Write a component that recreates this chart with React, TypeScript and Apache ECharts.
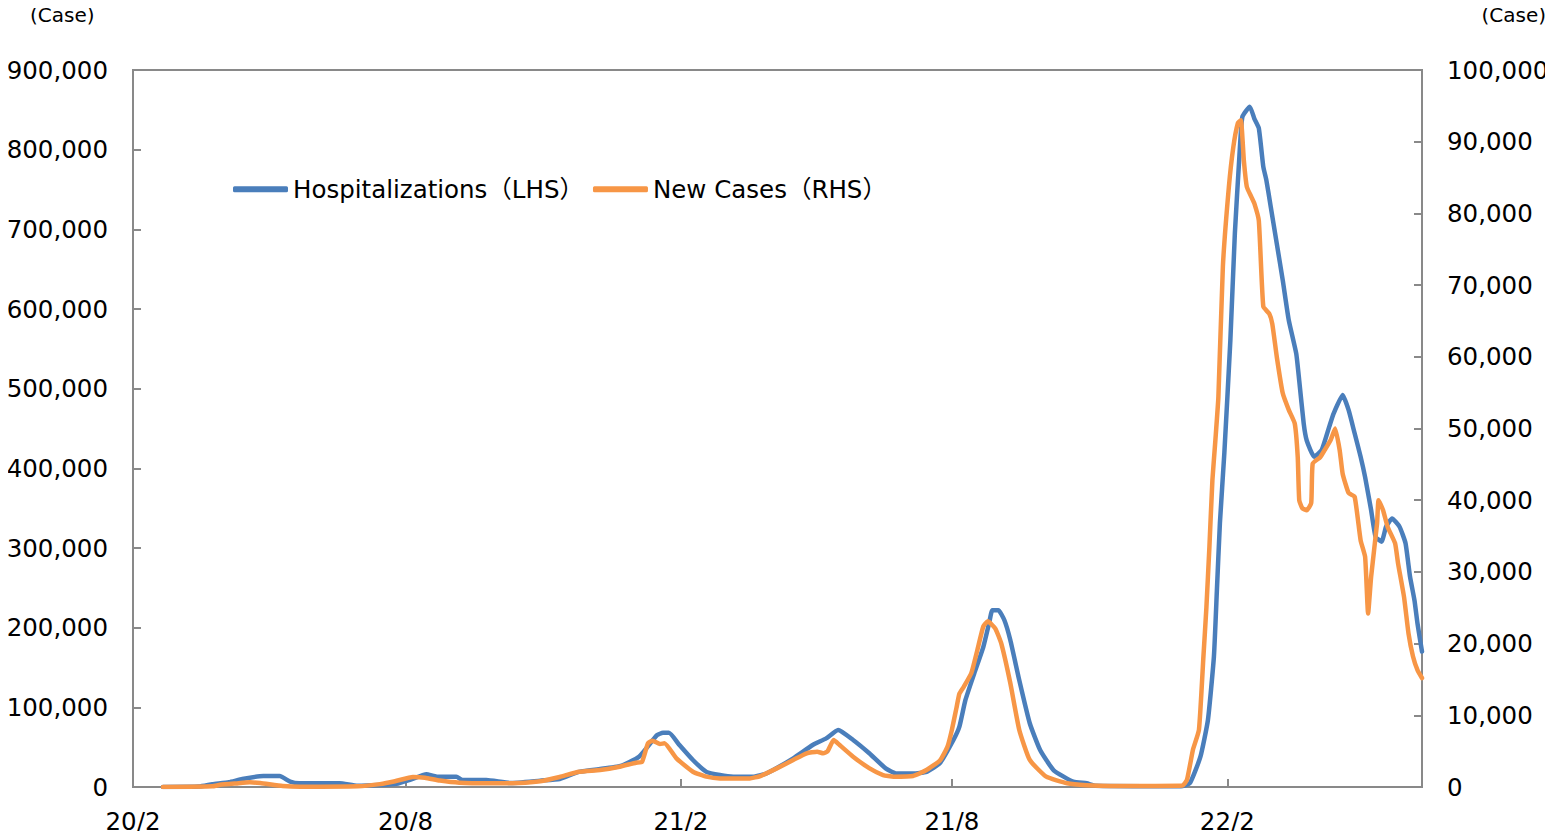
import React, { useEffect, useRef } from "react";
import * as echarts from "echarts";

// Hospitalizations, left axis
const hospDates = [
  "2020-02-21", "2020-03-16", "2020-03-25", "2020-04-05", "2020-04-14", "2020-04-28", "2020-05-09",
  "2020-05-16", "2020-05-22", "2020-06-18", "2020-06-30", "2020-07-15", "2020-07-26", "2020-08-04",
  "2020-08-15", "2020-08-22", "2020-09-04", "2020-09-08", "2020-09-24", "2020-10-10", "2020-10-30",
  "2020-11-12", "2020-11-25", "2020-12-22", "2021-01-04", "2021-01-16", "2021-01-20", "2021-01-24",
  "2021-01-31", "2021-02-09", "2021-02-18", "2021-02-27", "2021-03-08", "2021-03-21", "2021-03-30",
  "2021-04-17", "2021-04-30", "2021-05-09", "2021-05-17", "2021-05-27", "2021-06-07", "2021-06-18",
  "2021-06-25", "2021-07-06", "2021-07-15", "2021-07-24", "2021-08-02", "2021-08-06", "2021-08-10",
  "2021-08-16", "2021-08-22", "2021-08-26", "2021-08-28", "2021-09-01", "2021-09-05", "2021-09-09",
  "2021-09-15", "2021-09-22", "2021-09-29", "2021-10-08", "2021-10-21", "2021-10-30", "2021-11-05",
  "2021-12-15", "2022-01-01", "2022-01-07", "2022-01-14", "2022-01-19", "2022-01-23", "2022-01-25",
  "2022-01-27", "2022-01-30", "2022-02-03", "2022-02-06", "2022-02-09", "2022-02-11", "2022-02-16",
  "2022-02-19", "2022-02-22", "2022-02-25", "2022-02-27", "2022-03-02", "2022-03-06", "2022-03-10",
  "2022-03-14", "2022-03-19", "2022-03-21", "2022-03-24", "2022-03-26", "2022-03-31", "2022-04-05",
  "2022-04-10", "2022-04-13", "2022-04-19", "2022-04-23", "2022-04-27", "2022-05-01", "2022-05-04",
  "2022-05-08", "2022-05-11", "2022-05-15", "2022-05-18", "2022-05-22", "2022-05-27", "2022-05-31",
  "2022-06-03", "2022-06-06", "2022-06-08", "2022-06-11",
];
const hospValues = [
  0, 500, 3400, 6000, 10000, 13800, 13800,
  6700, 4600, 4600, 1500, 2500, 4000, 9000,
  16000, 13000, 13000, 8800, 8800, 5000, 8000,
  10000, 19000, 26000, 38000, 65000, 68000, 68000,
  52700, 33900, 19000, 15000, 13000, 13000, 17000,
  36000, 52700, 61000, 71500, 59000, 42000, 23000,
  17000, 17000, 19000, 30000, 59000, 75700, 109000,
  143000, 176000, 207000, 222000, 222000, 209600, 184500,
  134000, 80000, 46000, 21000, 6700, 4600, 1500,
  1000, 1000, 5000, 38000, 84000, 163500, 247000,
  331000, 420000, 561000, 695000, 791000, 841000, 854000,
  839000, 827000, 778600, 762000, 728000, 682000, 636000,
  586000, 544000, 510000, 456000, 435000, 414600, 423000,
  452000, 469000, 492000, 473000, 444000, 414600, 389000,
  347700, 314000, 308000, 326700, 337000, 326700, 306000,
  264000, 234000, 205000, 170000,
];

// New cases, right axis
const caseDates = [
  "2020-02-21", "2020-03-25", "2020-03-30", "2020-04-10", "2020-04-19", "2020-04-26", "2020-05-11",
  "2020-05-23", "2020-06-30", "2020-07-15", "2020-07-25", "2020-08-06", "2020-08-14", "2020-08-24",
  "2020-09-06", "2020-09-26", "2020-10-16", "2020-10-30", "2020-11-12", "2020-11-25", "2020-12-09",
  "2020-12-22", "2021-01-02", "2021-01-06", "2021-01-10", "2021-01-13", "2021-01-18", "2021-01-21",
  "2021-01-29", "2021-02-09", "2021-02-18", "2021-02-27", "2021-03-19", "2021-03-26", "2021-04-06",
  "2021-04-17", "2021-04-26", "2021-05-03", "2021-05-07", "2021-05-10", "2021-05-14", "2021-05-18",
  "2021-05-27", "2021-06-07", "2021-06-16", "2021-06-23", "2021-07-06", "2021-07-15", "2021-07-24",
  "2021-07-29", "2021-08-01", "2021-08-04", "2021-08-06", "2021-08-09", "2021-08-14", "2021-08-18",
  "2021-08-22", "2021-08-25", "2021-08-30", "2021-09-03", "2021-09-09", "2021-09-15", "2021-09-22",
  "2021-10-03", "2021-10-17", "2021-10-30", "2021-11-15", "2021-12-15", "2022-01-02", "2022-01-05",
  "2022-01-09", "2022-01-13", "2022-01-16", "2022-01-18", "2022-01-20", "2022-01-22", "2022-01-24",
  "2022-01-26", "2022-01-29", "2022-02-02", "2022-02-05", "2022-02-08", "2022-02-10", "2022-02-12",
  "2022-02-14", "2022-02-17", "2022-02-19", "2022-02-22", "2022-02-25", "2022-03-01", "2022-03-03",
  "2022-03-06", "2022-03-10", "2022-03-14", "2022-03-18", "2022-03-20", "2022-03-21", "2022-03-23",
  "2022-03-26", "2022-03-29", "2022-03-30", "2022-04-04", "2022-04-07", "2022-04-11", "2022-04-14",
  "2022-04-17", "2022-04-19", "2022-04-23", "2022-04-27", "2022-05-01", "2022-05-04", "2022-05-06",
  "2022-05-08", "2022-05-12", "2022-05-13", "2022-05-16", "2022-05-19", "2022-05-24", "2022-05-26",
  "2022-05-30", "2022-06-02", "2022-06-05", "2022-06-08", "2022-06-11",
];
const caseValues = [
  10, 100, 300, 500, 650, 550, 150,
  40, 100, 400, 800, 1400, 1300, 900,
  600, 520, 550, 800, 1400, 2130, 2370,
  2830, 3390, 3500, 6090, 6460, 6000, 6090,
  4000, 2130, 1440, 1200, 1200, 1530, 2600,
  3770, 4700, 4930, 4700, 5000, 6550, 5860,
  4230, 2600, 1670, 1440, 1530, 2370, 3700,
  5600, 8000, 11000, 13000, 14000, 15900, 19100,
  22400, 23100, 22100, 20000, 14500, 7950, 3770,
  1440, 520, 250, 150, 150, 200, 980,
  5200, 7950, 18200, 25100, 33500, 42800, 48400,
  54400, 72600, 83700, 89300, 92600, 93000, 87400,
  83700, 82300, 81400, 79000, 67000, 66000, 64600,
  60000, 54900, 52600, 50700, 46000, 40000, 38900,
  38600, 39600, 45100, 46000, 47000, 48400, 50000,
  47000, 43700, 41000, 40500, 34400, 32100, 24200,
  29300, 36800, 40000, 38600, 36300, 34000, 31200,
  26500, 21400, 18200, 16300, 15200,
];

const xStart = "2020-02-01";
const xEnd = "2022-06-11";
const monthTicks = ["2020-02-01", "2020-08-01", "2021-02-01", "2021-08-01", "2022-02-01"];

const seriesNames = ["Hospitalizations（LHS）", "New Cases（RHS）"];
const seriesColors = ["#4A7EBB", "#F79646"];
const unitLabel = "(Case)";

const FONT = "'DejaVu Sans', 'Noto Sans CJK JP', sans-serif";
const AXIS_GRAY = "#898989";
const LABEL_SIZE = 24.5;

function toTs(d: string): number {
  const [y, m, day] = d.split("-").map(Number);
  return Date.UTC(y, m - 1, day);
}

function monthLabel(v: number): string {
  const d = new Date(v);
  return `${String(d.getUTCFullYear()).slice(2)}/${d.getUTCMonth() + 1}`;
}

function withCommas(v: number): string {
  return Math.round(v).toString().replace(/\B(?=(\d{3})+(?!\d))/g, ",");
}

export default function App() {
  const ref = useRef<HTMLDivElement>(null);

  useEffect(() => {
    if (!ref.current) return;
    const chart = echarts.init(ref.current, undefined, { renderer: "svg" });
    const tickTs = monthTicks.map(toTs);

    const axisCommon = {
      axisLine: { show: true, lineStyle: { color: AXIS_GRAY, width: 2 } },
      axisTick: { show: true, inside: true, length: 8, lineStyle: { color: AXIS_GRAY, width: 2 } },
      splitLine: { show: false },
    };

    const labelStyle = { fontSize: LABEL_SIZE, color: "#000", fontFamily: FONT };

    const lineSeries = (i: number, yAxisIndex: number, dates: string[], values: number[]) => ({
      name: seriesNames[i],
      type: "line",
      yAxisIndex,
      symbol: "none",
      showSymbol: false,
      smooth: 0.15,
      color: seriesColors[i],
      itemStyle: { color: seriesColors[i] },
      lineStyle: { width: 4.5, color: seriesColors[i], join: "round", cap: "round" },
      data: dates.map((d, k) => [toTs(d), values[k]]),
    });

    chart.setOption({
      animation: false,
      textStyle: { fontFamily: FONT },
      grid: {
        left: 133,
        right: 131,
        top: 70,
        bottom: 52,
        show: true,
        borderColor: AXIS_GRAY,
        borderWidth: 2,
        backgroundColor: "transparent",
      },
      legend: {
        left: 233,
        top: 177,
        padding: 0,
        icon: "roundRect",
        itemWidth: 55,
        itemHeight: 6,
        itemGap: 9,
        textStyle: { fontSize: LABEL_SIZE, color: "#000", fontFamily: FONT },
        data: seriesNames,
      },
      graphic: [
        {
          type: "text",
          x: 30,
          y: 5,
          style: { text: unitLabel, fontSize: 20, fill: "#000", fontFamily: FONT, align: "left", verticalAlign: "top" },
        },
        {
          type: "text",
          x: 1546,
          y: 5,
          style: { text: unitLabel, fontSize: 20, fill: "#000", fontFamily: FONT, align: "right", verticalAlign: "top" },
        },
      ],
      xAxis: {
        type: "value",
        min: toTs(xStart),
        max: toTs(xEnd),
        ...axisCommon,
        axisTick: { ...axisCommon.axisTick, customValues: tickTs },
        axisLabel: {
          ...labelStyle,
          customValues: tickTs,
          formatter: (v: number) => monthLabel(v),
          margin: 22,
        },
      },
      yAxis: [
        {
          type: "value",
          position: "left",
          min: 0,
          max: 900000,
          interval: 100000,
          ...axisCommon,
          axisLabel: { ...labelStyle, formatter: (v: number) => withCommas(v), margin: 25 },
        },
        {
          type: "value",
          position: "right",
          min: 0,
          max: 100000,
          interval: 10000,
          ...axisCommon,
          axisLabel: { ...labelStyle, formatter: (v: number) => withCommas(v), margin: 25 },
        },
      ],
      series: [
        lineSeries(0, 0, hospDates, hospValues),
        lineSeries(1, 1, caseDates, caseValues),
      ],
    });

    return () => chart.dispose();
  }, []);

  return <div ref={ref} style={{ width: 1553, height: 839, margin: -8 }} />;
}
